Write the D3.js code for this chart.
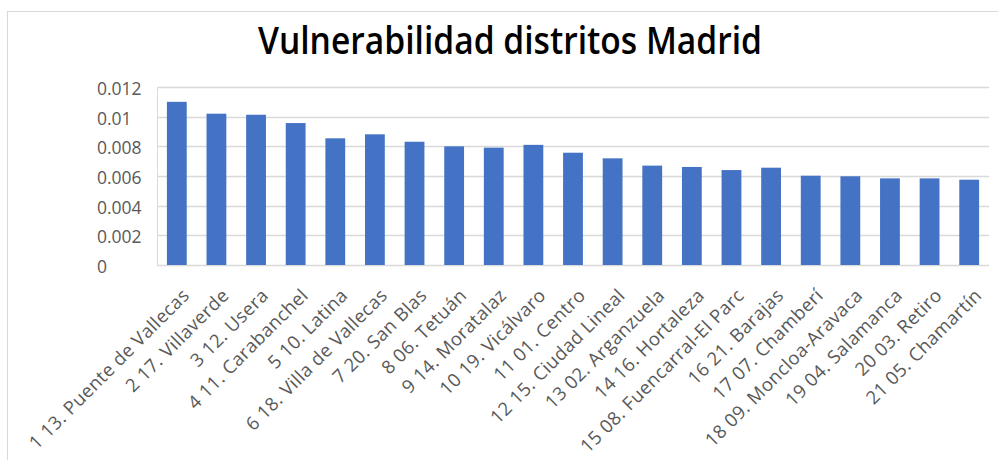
<!DOCTYPE html>
<html>
<head>
<meta charset="utf-8">
<script src="https://cdn.jsdelivr.net/npm/d3@7"></script>
<style>
  body { margin: 0; background: #fff; }
  svg { display: block; font-family: "Open Sans", sans-serif; }
</style>
</head>
<body>
<div id="chart"></div>
<script>
// district labels, in the order they appear on the x axis
var districts = ["1 13. Puente de Vallecas", "2 17. Villaverde", "3 12. Usera", "4 11. Carabanchel",
  "5 10. Latina", "6 18. Villa de Vallecas", "7 20. San Blas", "8 06. Tetuán", "9 14. Moratalaz",
  "10 19. Vicálvaro", "11 01. Centro", "12 15. Ciudad Lineal", "13 02. Arganzuela", "14 16. Hortaleza",
  "15 08. Fuencarral-El Parc", "16 21. Barajas", "17 07. Chamberí", "18 09. Moncloa-Aravaca",
  "19 04. Salamanca", "20 03. Retiro", "21 05. Chamartín"];

// vulnerability index
var vulnerability = [0.0110, 0.0102, 0.01013, 0.00957, 0.00854, 0.00881, 0.00831, 0.0080, 0.00791,
  0.0081, 0.00757, 0.00719, 0.00670, 0.00661, 0.0064, 0.00656, 0.00602, 0.00598, 0.00584, 0.00584, 0.00575];

// y axis ticks
var yTicks = [0, 0.002, 0.004, 0.006, 0.008, 0.01, 0.012];

var title = "Vulnerabilidad distritos Madrid";

var data = districts.map(function (d, i) { return {key: d, value: vulnerability[i]}; });

var W = 998, H = 460;
var margin = {top: 87, right: 9, bottom: 195, left: 157},
    width = W - margin.left - margin.right,
    height = H - margin.top - margin.bottom;

var svg = d3.select("#chart").append("svg")
  .attr("width", W)
  .attr("height", H);

// chart frame
svg.append("rect")
  .attr("x", 7.5)
  .attr("y", 11.5)
  .attr("width", W + 20)
  .attr("height", H + 20)
  .attr("fill", "none")
  .attr("stroke", "#d9d9d9");

// title
svg.append("text")
  .attr("x", 510)
  .attr("y", 54)
  .attr("text-anchor", "middle")
  .attr("font-size", 38)
  .attr("font-weight", 600)
  .attr("fill", "#000")
  .attr("textLength", 504)
  .attr("lengthAdjust", "spacingAndGlyphs")
  .text(title);

var plot = svg.append("g")
  .attr("transform", "translate(" + margin.left + "," + margin.top + ")");

var x = d3.scaleBand()
  .domain(districts)
  .range([0, width])
  .paddingInner(0.5)
  .paddingOuter(0.25);

var y = d3.scaleLinear()
  .domain([0, 0.012])
  .range([height, 0]);

// gridlines
plot.selectAll(".grid")
  .data(yTicks)
  .enter().append("line")
  .attr("class", "grid")
  .attr("x1", 0)
  .attr("x2", width)
  .attr("y1", function (d) { return Math.round(y(d)) + 0.5; })
  .attr("y2", function (d) { return Math.round(y(d)) + 0.5; })
  .attr("stroke", "#d9d9d9")
  .attr("stroke-width", 1.3);

// left border of plot area
plot.append("line")
  .attr("x1", 0.5).attr("x2", 0.5)
  .attr("y1", 0).attr("y2", height)
  .attr("stroke", "#d9d9d9");

// y tick labels (left aligned like the source)
plot.selectAll(".ylab")
  .data(yTicks)
  .enter().append("text")
  .attr("class", "ylab")
  .attr("x", 97 - margin.left)
  .attr("y", function (d) { return y(d) + 2; })
  .attr("dy", "0.35em")
  .attr("font-size", 17.5)
  .attr("fill", "#595959")
  .text(function (d) { return d === 0 ? "0" : String(+d.toFixed(3)); });

// bars
plot.selectAll(".bar")
  .data(data)
  .enter().append("rect")
  .attr("class", "bar")
  .attr("x", function (d) { return x(d.key); })
  .attr("width", x.bandwidth())
  .attr("y", function (d) { return y(d.value); })
  .attr("height", function (d) { return height - y(d.value); })
  .attr("fill", "#4472c4");

// rotated x labels
plot.selectAll(".xlab")
  .data(districts)
  .enter().append("text")
  .attr("class", "xlab")
  .attr("transform", function (d) {
    return "translate(" + (x(d) + x.bandwidth() / 2 + 9) + "," + (height + 27) + ") rotate(-45)";
  })
  .attr("text-anchor", "end")
  .attr("dy", "0.35em")
  .attr("font-size", 18.5)
  .attr("letter-spacing", 0.4)
  .attr("fill", "#595959")
  .text(function (d) { return d; });
</script>
</body>
</html>
